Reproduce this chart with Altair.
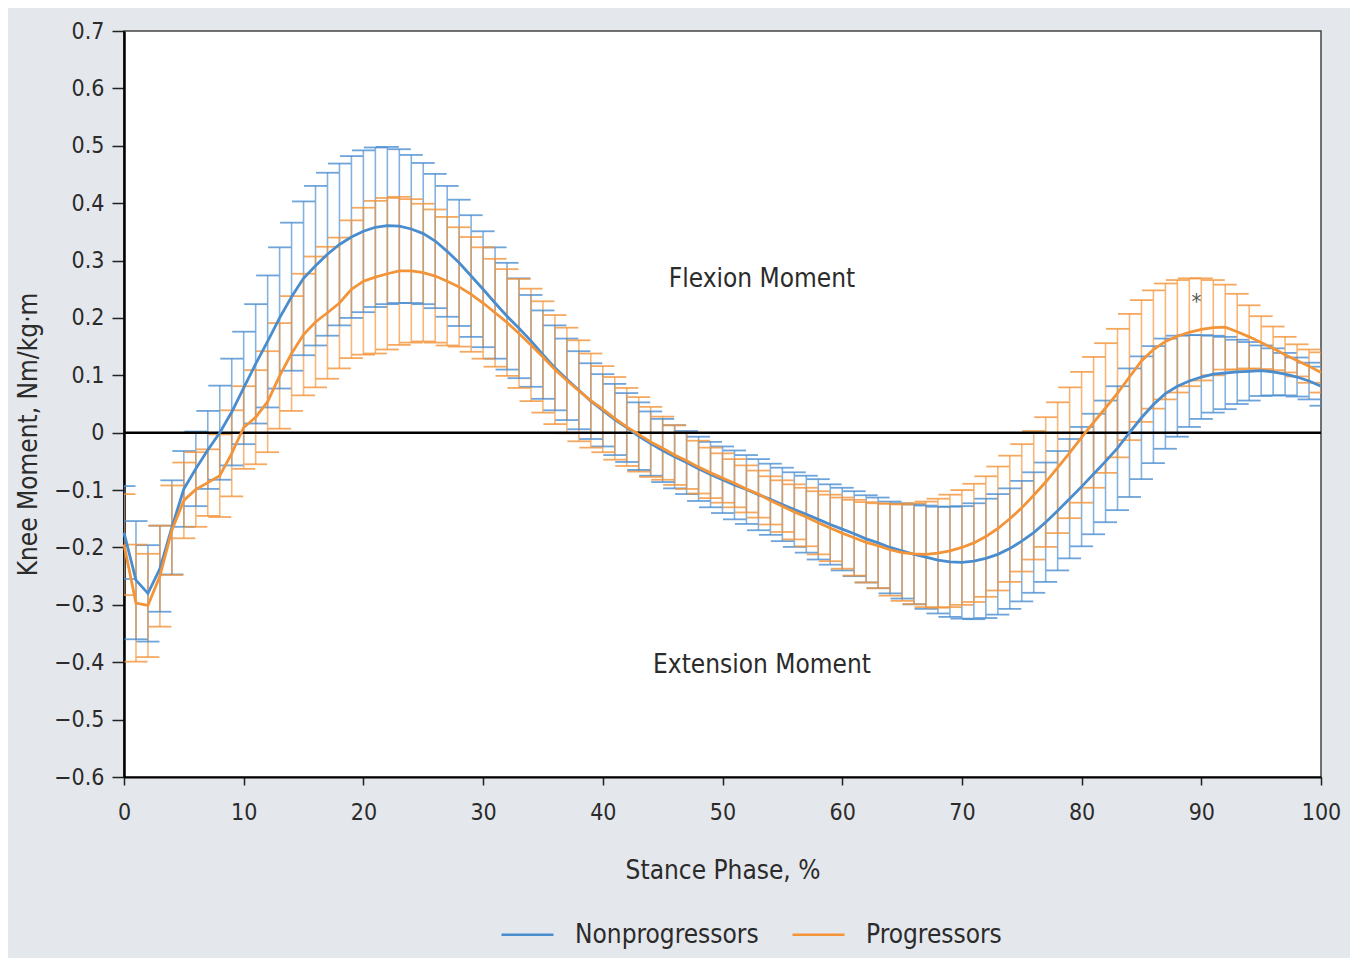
import altair as alt
import pandas as pd

# ---------------- data ----------------
stance = list(range(101))

non_mean = [
    -0.174, -0.257, -0.280, -0.237, -0.165, -0.098, -0.063, -0.030, 0.000, 0.036,
    0.078, 0.120, 0.159, 0.200, 0.237, 0.269, 0.291, 0.311, 0.328, 0.341,
    0.351, 0.358, 0.361, 0.360, 0.355, 0.347, 0.334, 0.316, 0.296, 0.273,
    0.250, 0.226, 0.203, 0.182, 0.160, 0.136, 0.113, 0.093, 0.074, 0.055,
    0.039, 0.023, 0.009, -0.006, -0.019, -0.031, -0.042, -0.052, -0.063, -0.073,
    -0.082, -0.091, -0.099, -0.108, -0.116, -0.125, -0.134, -0.142, -0.151, -0.160,
    -0.168, -0.176, -0.185, -0.192, -0.200, -0.206, -0.212, -0.217, -0.222, -0.225,
    -0.226, -0.224, -0.219, -0.212, -0.202, -0.189, -0.174, -0.156, -0.136, -0.115,
    -0.094, -0.072, -0.050, -0.027, 0.000, 0.026, 0.049, 0.068, 0.081, 0.090,
    0.097, 0.102, 0.104, 0.106, 0.107, 0.108, 0.106, 0.102, 0.097, 0.090,
    0.081,
]
non_sd = [
    0.081, 0.103, 0.084, 0.075, 0.082, 0.066, 0.065, 0.068, 0.082, 0.093,
    0.098, 0.104, 0.115, 0.123, 0.129, 0.134, 0.139, 0.142, 0.141, 0.141,
    0.141, 0.139, 0.137, 0.134, 0.129, 0.123, 0.117, 0.114, 0.110, 0.106,
    0.101, 0.097, 0.093, 0.087, 0.080, 0.077, 0.074, 0.071, 0.068, 0.066,
    0.063, 0.062, 0.060, 0.059, 0.056, 0.055, 0.055, 0.055, 0.056, 0.057,
    0.058, 0.060, 0.060, 0.062, 0.062, 0.064, 0.065, 0.067, 0.070, 0.070,
    0.072, 0.074, 0.076, 0.079, 0.080, 0.083, 0.087, 0.090, 0.093, 0.096,
    0.098, 0.101, 0.104, 0.105, 0.105, 0.105, 0.105, 0.104, 0.104, 0.104,
    0.104, 0.105, 0.106, 0.108, 0.112, 0.107, 0.102, 0.096, 0.088, 0.080,
    0.073, 0.067, 0.063, 0.056, 0.051, 0.044, 0.041, 0.037, 0.034, 0.032,
    0.034,
]
pro_mean = [
    -0.195, -0.297, -0.301, -0.250, -0.170, -0.118, -0.099, -0.087, -0.075, -0.036,
    0.009, 0.027, 0.054, 0.099, 0.138, 0.171, 0.193, 0.209, 0.226, 0.250,
    0.264, 0.271, 0.277, 0.282, 0.282, 0.279, 0.273, 0.264, 0.254, 0.241,
    0.226, 0.209, 0.192, 0.173, 0.153, 0.132, 0.110, 0.091, 0.073, 0.056,
    0.041, 0.025, 0.010, -0.003, -0.016, -0.027, -0.039, -0.049, -0.060, -0.070,
    -0.079, -0.088, -0.098, -0.107, -0.118, -0.128, -0.138, -0.147, -0.157, -0.166,
    -0.175, -0.183, -0.191, -0.197, -0.204, -0.209, -0.211, -0.212, -0.210, -0.206,
    -0.200, -0.192, -0.181, -0.167, -0.150, -0.131, -0.109, -0.086, -0.061, -0.035,
    -0.008, 0.018, 0.043, 0.069, 0.097, 0.125, 0.145, 0.159, 0.168, 0.175,
    0.180, 0.183, 0.184, 0.176, 0.167, 0.157, 0.147, 0.136, 0.126, 0.116,
    0.105,
]
pro_sd = [
    0.088, 0.102, 0.090, 0.088, 0.078, 0.066, 0.065, 0.058, 0.072, 0.075,
    0.072, 0.082, 0.088, 0.092, 0.100, 0.106, 0.114, 0.115, 0.114, 0.120,
    0.128, 0.133, 0.132, 0.129, 0.125, 0.120, 0.116, 0.112, 0.104, 0.100,
    0.097, 0.094, 0.093, 0.095, 0.098, 0.097, 0.095, 0.092, 0.088, 0.082,
    0.075, 0.072, 0.068, 0.065, 0.061, 0.055, 0.052, 0.049, 0.046, 0.044,
    0.043, 0.042, 0.041, 0.041, 0.042, 0.045, 0.048, 0.051, 0.055, 0.058,
    0.062, 0.066, 0.070, 0.074, 0.080, 0.084, 0.088, 0.092, 0.095, 0.098,
    0.100, 0.103, 0.105, 0.108, 0.110, 0.111, 0.112, 0.113, 0.114, 0.114,
    0.114, 0.114, 0.113, 0.112, 0.110, 0.106, 0.103, 0.101, 0.098, 0.094,
    0.089, 0.083, 0.074, 0.066, 0.055, 0.046, 0.038, 0.031, 0.028, 0.029,
    0.035,
]

groups = ["Nonprogressors", "Progressors"]
colors = ["#4a8dcf", "#f39438"]

y_ticks = [-0.6, -0.5, -0.4, -0.3, -0.2, -0.1, 0.0, 0.1, 0.2, 0.3, 0.4, 0.5, 0.6, 0.7]
x_ticks = [0, 10, 20, 30, 40, 50, 60, 70, 80, 90, 100]

notes_text = ["Flexion Moment", "Extension Moment"]
notes_x = [53.3, 53.3]
notes_y = [0.268, -0.404]

star_text = ["*"]
star_x = [89.6]
star_y = [0.228]

# ---------------- table ----------------
frames = []
for g, m, s in ((groups[0], non_mean, non_sd), (groups[1], pro_mean, pro_sd)):
    d = pd.DataFrame({"stance": stance, "mean": m, "sd": s})
    d["group"] = g
    frames.append(d)
df = pd.concat(frames, ignore_index=True)
df["lo"] = df["mean"] - df["sd"]
df["hi"] = df["mean"] + df["sd"]

FONT = "DejaVu Sans Condensed, Liberation Sans Narrow, sans-serif"
TXT = "#2b2b2b"

xscale = alt.Scale(domain=[0, 100], nice=False)
yscale = alt.Scale(domain=[-0.6, 0.7], nice=False, zero=False)
cscale = alt.Scale(domain=groups, range=colors)

x_axis = alt.Axis(
    values=x_ticks, title="Stance Phase, %", grid=False, labelFlush=False,
    domainColor="black", domainWidth=2, tickColor="#222", tickWidth=1.5, tickSize=8,
    labelFont=FONT, labelFontSize=23, labelColor=TXT, labelPadding=16,
    titleFont=FONT, titleFontSize=26, titleFontWeight="normal", titleColor=TXT,
    titleY=93, titleBaseline="middle",
)
y_axis = alt.Axis(
    values=y_ticks, title="Knee Moment, Nm/kg·m", grid=False, labelFlush=False,
    labelExpr="abs(datum.value) < 1e-9 ? '0' : format(datum.value, '.1f')",
    domainColor="black", domainWidth=2.5, tickColor="#222", tickWidth=1.5, tickSize=12,
    labelFont=FONT, labelFontSize=23, labelColor=TXT, labelPadding=8,
    titleFont=FONT, titleFontSize=26, titleFontWeight="normal", titleColor=TXT,
    titleX=-96, titleY=403, titleAlign="center", titleBaseline="middle", titleAngle=-90,
)

legend = alt.Legend(
    title=None, orient="none", direction="horizontal", legendX=376, legendY=876,
    symbolType="stroke", symbolSize=2704, symbolStrokeWidth=2.5, symbolOpacity=1,
    labelFont=FONT, labelFontSize=26, labelColor=TXT, labelOffset=20, labelLimit=0,
    columnPadding=28, padding=0,
)

base = alt.Chart(df)
X = alt.X("stance:Q", scale=xscale, axis=x_axis)
C = alt.Color("group:N", scale=cscale, legend=legend)

bars = base.mark_rule(strokeWidth=1.6, opacity=0.68, clip=True).encode(
    x=X, y=alt.Y("lo:Q", scale=yscale, axis=y_axis), y2="hi:Q", color=C
)
caps_hi = base.mark_tick(orient="horizontal", size=23, thickness=1.8, opacity=0.8, clip=True).encode(
    x=X, y=alt.Y("hi:Q", scale=yscale, axis=y_axis), color=C
)
caps_lo = base.mark_tick(orient="horizontal", size=23, thickness=1.8, opacity=0.8, clip=True).encode(
    x=X, y=alt.Y("lo:Q", scale=yscale, axis=y_axis), color=C
)
zero = alt.Chart(pd.DataFrame({"z": [0.0]})).mark_rule(color="black", strokeWidth=2.5).encode(
    y=alt.Y("z:Q", scale=yscale, axis=y_axis)
)
lines = base.mark_line(strokeWidth=2.8).encode(
    x=X, y=alt.Y("mean:Q", scale=yscale, axis=y_axis), color=C
)
notes = alt.Chart(pd.DataFrame({"t": notes_text, "x": notes_x, "y": notes_y})).mark_text(
    font=FONT, fontSize=26, color=TXT
).encode(x=alt.X("x:Q", scale=xscale, axis=x_axis), y=alt.Y("y:Q", scale=yscale, axis=y_axis), text="t:N")
star = alt.Chart(pd.DataFrame({"t": star_text, "x": star_x, "y": star_y})).mark_text(
    font=FONT, fontSize=22, color="#555"
).encode(x=alt.X("x:Q", scale=xscale, axis=x_axis), y=alt.Y("y:Q", scale=yscale, axis=y_axis), text="t:N")

chart = (
    alt.layer(bars, caps_hi, caps_lo, zero, lines, notes, star)
    .properties(
        width=1197, height=746,
        autosize=alt.AutoSizeParams(type="none"),
        padding={"left": 116, "top": 23, "right": 29, "bottom": 181},
        background="#e4e7eb",
    )
    .configure_view(fill="white", stroke="#444", strokeWidth=1.5)
)

chart.save("out.html", embed_options={"renderer": "svg", "actions": False})
